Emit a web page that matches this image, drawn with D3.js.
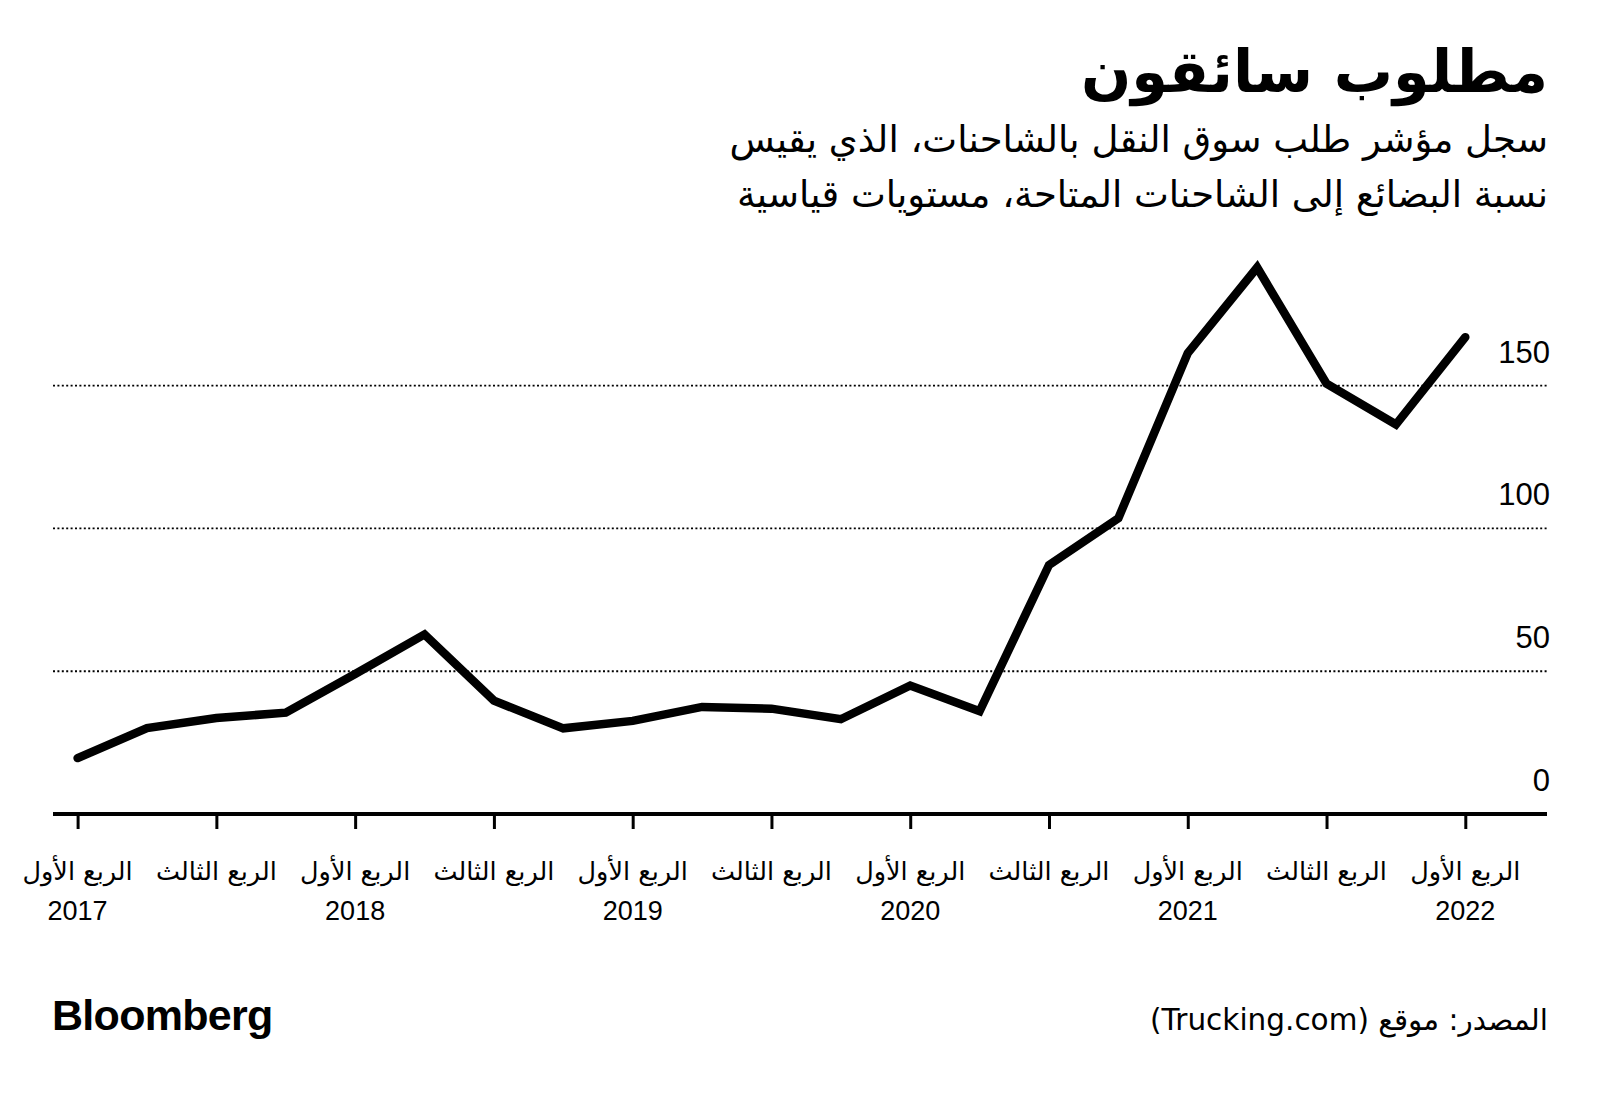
<!DOCTYPE html>
<html lang="ar">
<head>
<meta charset="utf-8">
<script src="https://cdn.jsdelivr.net/npm/d3@7"></script>
<style>
  html, body { margin: 0; padding: 0; background: #fff; }
  svg { display: block; }
</style>
</head>
<body>
<svg id="chart" width="1600" height="1095"></svg>
<script>
// ---- data ----
const quarters = [
  "2017 Q1","2017 Q2","2017 Q3","2017 Q4",
  "2018 Q1","2018 Q2","2018 Q3","2018 Q4",
  "2019 Q1","2019 Q2","2019 Q3","2019 Q4",
  "2020 Q1","2020 Q2","2020 Q3","2020 Q4",
  "2021 Q1","2021 Q2","2021 Q3","2021 Q4",
  "2022 Q1"
];
const values = [
  19.6, 30.1, 33.6, 35.5,
  49.0, 62.9, 39.7, 30.0,
  32.6, 37.5, 36.9, 33.2,
  45.0, 36.0, 87.2, 103.6,
  161.4, 191.4, 150.7, 136.4,
  167.0
];
const tickQuarterLabels = ["الربع الأول","الربع الثالث"];
const tickYears = ["2017","","2018","","2019","","2020","","2021","","2022"];
const yTicks = [0, 50, 100, 150];
const title = "مطلوب سائقون";
const subtitleLines = [
  "سجل مؤشر طلب سوق النقل بالشاحنات، الذي يقيس",
  "نسبة البضائع إلى الشاحنات المتاحة، مستويات قياسية"
];
const sourceText = "المصدر: موقع (Trucking.com)";
const brand = "Bloomberg";

// ---- layout ----
const svg = d3.select("#chart");
const arabicFont = "'DejaVu Sans', 'Noto Sans', sans-serif";
const latinFont = "'Liberation Sans', Arial, sans-serif";
const rightEdge = 1548;
const leftEdge = 53;

const x = d3.scaleLinear().domain([0, quarters.length - 1]).range([77.6, 1465.3]);
const y = d3.scaleLinear().domain([0, 150]).range([814, 385.7]);

// title
svg.append("text")
  .attr("x", rightEdge).attr("y", 92)
  .attr("direction", "rtl").attr("text-anchor", "start")
  .style("font-family", arabicFont).style("font-weight", "bold")
  .style("font-size", "59px").attr("fill", "#000")
  .text(title);

svg.selectAll("text.sub").data(subtitleLines).enter().append("text")
  .attr("class", "sub")
  .attr("x", rightEdge).attr("y", (d, i) => 152 + i * 55)
  .attr("direction", "rtl").attr("text-anchor", "start")
  .style("font-family", arabicFont)
  .style("font-size", "37px").attr("fill", "#000")
  .text(d => d);

// gridlines
const grid = svg.append("g");
grid.selectAll("line").data(yTicks.filter(d => d > 0)).enter().append("line")
  .attr("x1", leftEdge).attr("x2", rightEdge)
  .attr("y1", d => y(d)).attr("y2", d => y(d))
  .attr("stroke", "#000").attr("stroke-width", 1.8)
  .attr("stroke-dasharray", "2,2.4");

// y labels
svg.append("g").selectAll("text").data(yTicks).enter().append("text")
  .attr("x", 1550).attr("y", d => y(d) - 23)
  .attr("text-anchor", "end")
  .style("font-family", latinFont).style("font-size", "31px")
  .attr("fill", "#000")
  .text(d => d);

// x axis
const tickIdx = d3.range(0, quarters.length, 2);
const xAxis = d3.axisBottom(x).tickValues(tickIdx).tickSize(15).tickFormat("");
const gx = svg.append("g").attr("transform", "translate(0,814)").call(xAxis);
gx.select(".domain").remove();
gx.selectAll(".tick line").attr("stroke", "#000").attr("stroke-width", 3);
svg.append("line")
  .attr("x1", leftEdge).attr("x2", 1547)
  .attr("y1", 814).attr("y2", 814)
  .attr("stroke", "#000").attr("stroke-width", 4);

const xl = svg.append("g");
xl.selectAll("text.q").data(tickIdx).enter().append("text")
  .attr("class", "q")
  .attr("x", d => x(d)).attr("y", 880)
  .attr("text-anchor", "middle")
  .style("font-family", arabicFont).style("font-size", "25.5px")
  .attr("fill", "#000")
  .text((d, i) => tickQuarterLabels[i % 2]);
xl.selectAll("text.yr").data(tickIdx).enter().append("text")
  .attr("class", "yr")
  .attr("x", d => x(d)).attr("y", 920)
  .attr("text-anchor", "middle")
  .style("font-family", latinFont).style("font-size", "27px")
  .attr("fill", "#000")
  .text((d, i) => tickYears[i]);

// line
const line = d3.line().x((d, i) => x(i)).y(d => y(d));
svg.append("path")
  .datum(values)
  .attr("d", line)
  .attr("fill", "none").attr("stroke", "#000")
  .attr("stroke-width", 8.5)
  .attr("stroke-linejoin", "miter").attr("stroke-linecap", "round");

// footer
svg.append("text")
  .attr("x", leftEdge - 1).attr("y", 1030)
  .style("font-family", latinFont).style("font-weight", "bold")
  .style("font-size", "43px").style("letter-spacing", "-0.7px")
  .attr("fill", "#000")
  .text(brand);

svg.append("text")
  .attr("x", rightEdge).attr("y", 1030)
  .attr("direction", "rtl").attr("text-anchor", "start")
  .style("font-family", arabicFont).style("font-size", "29.5px")
  .attr("fill", "#000")
  .text(sourceText);
</script>
</body>
</html>
